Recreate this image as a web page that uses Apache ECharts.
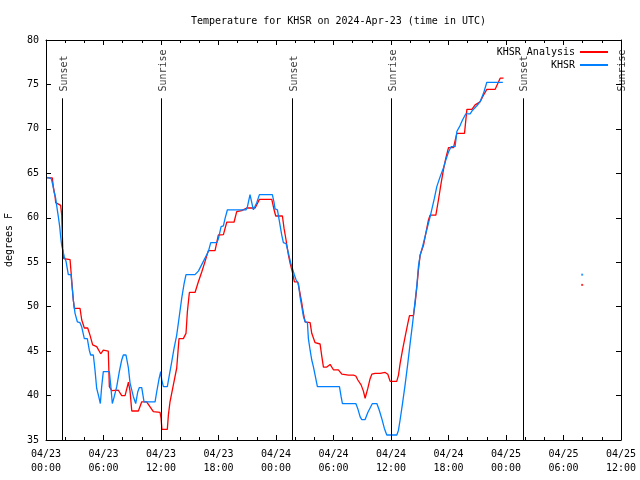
<!DOCTYPE html>
<html>
<head>
<meta charset="utf-8">
<script src="https://cdn.jsdelivr.net/npm/echarts@6/dist/echarts.min.js"></script>
<style>html,body{margin:0;padding:0;background:#fff}#c{width:640px;height:480px}</style>
</head>
<body>
<div id="c"></div>
<script>
// hours since 2024-04-23 00:00 UTC, temperature in F
const analysisTimes = [0.1,0.66,0.76,0.94,1.01,1.53,1.64,1.75,1.85,2.51,2.61,2.68,2.85,2.96,3.55,3.73,4.0,4.35,4.59,4.87,5.29,5.71,5.98,6.5,6.61,6.86,7.55,7.9,8.25,8.6,8.77,8.95,9.64,9.99,10.5,11.2,11.9,12.0,12.1,12.66,12.77,12.94,13.29,13.64,13.88,14.33,14.61,14.75,14.96,15.55,15.9,16.25,16.6,16.94,17.64,17.98,18.51,18.86,19.62,19.9,20.42,20.95,21.82,22.27,23.56,23.8,23.97,24.67,24.84,25.05,25.3,25.47,25.71,25.92,26.27,26.51,26.69,26.86,27.04,27.56,27.73,28.08,28.6,28.78,28.95,29.3,29.65,29.99,30.51,30.87,31.56,32.08,32.33,32.54,32.88,33.12,33.3,33.58,33.82,34.0,34.34,34.86,35.39,35.67,35.91,36.6,36.78,36.95,37.2,37.47,37.75,37.93,38.34,38.52,38.7,38.86,39.04,39.39,39.63,39.91,40.08,40.68,40.95,41.23,41.47,41.72,42.0,42.52,42.87,43.67,43.92,44.44,44.78,45.3,45.65,46.0,46.87,47.39,47.74];
const analysisTemps = [64.5,64.5,63.5,62.5,61.7,61.4,60.3,56.5,55.4,55.3,55.5,53.0,50.75,49.8,49.8,48.5,47.6,47.6,46.8,45.7,45.5,44.7,45.1,45.0,41.0,40.55,40.6,40.0,40.0,41.5,40.5,38.26,38.26,39.3,39.3,38.2,38.1,37.5,36.2,36.2,37.8,39.3,41.2,43.1,46.4,46.4,47.0,49.4,51.6,51.6,52.8,53.9,55.1,56.3,56.3,58.06,58.1,59.5,59.5,60.7,60.8,61.1,61.1,62.07,62.07,60.9,60.2,60.2,58.8,57.5,55.8,54.9,53.9,52.8,52.8,51.5,50.4,49.25,48.3,48.2,47.0,45.95,45.8,44.4,43.2,43.2,43.5,42.9,42.9,42.4,42.3,42.3,42.2,41.75,41.2,40.5,39.7,40.8,41.9,42.4,42.5,42.5,42.6,42.4,41.6,41.6,42.3,43.6,45.1,46.6,48.1,49.0,49.0,50.4,52.25,54.1,55.8,56.9,58.25,59.75,60.3,60.3,62.0,63.9,65.4,66.7,67.9,67.9,69.5,69.5,72.2,72.2,72.7,73.06,73.8,74.45,74.45,75.7,75.7];
const stationTimes = [0.14,0.55,0.73,0.84,1.01,1.11,1.29,1.43,1.53,1.64,1.91,2.09,2.33,2.61,2.75,2.85,3.03,3.27,3.55,3.72,4.0,4.31,4.52,4.66,4.94,5.11,5.29,5.5,5.67,5.81,5.98,6.61,6.75,6.92,7.1,7.38,7.65,7.9,8.07,8.35,8.6,8.77,9.11,9.36,9.57,9.74,9.99,10.23,11.38,11.55,11.8,11.97,12.07,12.25,12.66,12.87,13.12,13.36,13.64,13.88,14.16,14.41,14.61,15.55,15.9,16.42,16.94,17.19,17.82,17.98,18.27,18.51,18.68,18.93,20.88,21.02,21.29,21.47,21.64,21.99,22.27,23.62,23.8,23.9,24.15,24.36,24.6,24.77,25.05,25.3,25.54,25.71,25.92,26.1,26.34,26.51,26.69,26.86,27.04,27.28,27.38,27.56,27.73,27.9,28.08,28.32,30.62,30.79,30.93,32.33,32.54,32.78,32.95,33.3,33.58,33.82,34.06,34.52,34.76,35.04,35.31,35.56,36.61,36.78,36.95,37.2,37.47,37.75,38.0,38.25,38.45,38.7,38.86,39.04,39.29,39.56,39.91,40.08,40.26,40.53,40.78,41.12,41.47,41.72,42.0,42.27,42.69,42.87,43.22,43.46,43.81,44.26,44.51,44.96,45.3,45.65,46.0,47.67];
const stationTemps = [64.55,64.4,63.6,62.9,62.2,61.4,60.1,59.0,57.9,56.9,55.6,55.1,53.6,53.6,51.9,50.75,49.25,48.3,48.2,47.75,46.4,46.4,45.1,44.56,44.56,42.9,40.8,39.9,39.1,41.0,42.7,42.7,41.2,39.1,39.8,41.0,42.7,44.0,44.56,44.56,43.1,41.4,39.9,39.1,40.4,40.9,40.9,39.3,39.3,40.4,41.9,42.7,41.8,41.0,41.0,42.3,43.8,45.3,46.8,48.7,50.94,52.6,53.6,53.6,54.0,55.1,56.2,57.2,57.2,57.6,59.0,59.1,59.9,60.9,60.9,61.25,62.6,61.7,60.9,61.7,62.6,62.6,61.7,61.0,60.9,59.56,58.06,57.2,57.1,56.0,54.9,54.3,53.56,53.0,52.6,51.1,50.0,48.9,48.3,48.2,46.4,45.1,44.0,43.25,42.3,41.0,41.0,39.9,39.1,39.1,38.5,37.6,37.3,37.3,38.1,38.6,39.1,39.1,38.4,37.4,36.3,35.56,35.56,36.1,37.25,39.1,41.2,43.6,45.9,48.1,50.0,52.4,54.5,55.8,56.75,57.9,59.4,60.1,60.3,62.2,63.5,64.6,65.6,66.5,67.4,68.0,68.0,69.7,70.4,71.0,71.7,71.7,72.1,72.6,73.06,74.0,75.24,75.24];
// isolated later readings
const analysisExtra = [[55.95, 52.45]];
const stationExtra = [[55.95, 53.6]];
// sun events (hours)
const sunEvents = ['Sunset','Sunrise','Sunset','Sunrise','Sunset','Sunrise'];
const sunTimes = [1.70, 12.04, 25.7, 36.05, 49.76, 59.98];
const yTicks = [35,40,45,50,55,60,65,70,75,80];

const FONT = 'DejaVu Sans Mono';
const zip = (a,b) => a.map((t,i)=>[t,b[i]]);
const lineTop = 73.44, labelBase = 74.2;

function fmtX(v){
  const day = 23 + Math.floor(v/24);
  const hr = Math.round(v % 24);
  return '04/' + day + '\n' + String(hr).padStart(2,'0') + ':00';
}

const chart = echarts.init(document.getElementById('c'), null, {renderer:'canvas'});
const axisCommon = {
  type:'value', min:0, max:60, interval:6,
  axisLine:{show:true, onZero:false, lineStyle:{color:'#000', width:1}},
  axisTick:{show:true, inside:true, length:5, lineStyle:{color:'#000'}},
  minorTick:{show:true, splitNumber:3, length:3, lineStyle:{color:'#000'}},
  splitLine:{show:false}, minorSplitLine:{show:false}
};
const yCommon = {
  type:'value', min:35, max:80, interval:5,
  axisLine:{show:true, onZero:false, lineStyle:{color:'#000', width:1}},
  axisTick:{show:true, inside:true, length:5, lineStyle:{color:'#000'}},
  splitLine:{show:false}
};
chart.setOption({
  animation:false,
  backgroundColor:'#fff',
  title:{text:'Temperature for KHSR on 2024-Apr-23 (time in UTC)', left:186, top:11,
    textStyle:{fontFamily:FONT, fontSize:10, fontWeight:'normal', color:'#000'}},
  legend:{
    orient:'vertical', right:27, top:42, align:'right', itemGap:3,
    itemWidth:28, itemHeight:2, icon:'rect',
    textStyle:{fontFamily:FONT, fontSize:10, color:'#000'},
    data:[{name:'KHSR Analysis', itemStyle:{color:'#ff0000'}},{name:'KHSR', itemStyle:{color:'#0080ff'}}],
    selectedMode:false
  },
  grid:{left:46, right:19, top:40, bottom:40, containLabel:false, outerBoundsMode:'none'},
  xAxis:[
    Object.assign({}, axisCommon, {position:'bottom',
      axisLabel:{show:true, formatter:fmtX, fontFamily:FONT, fontSize:10, color:'#000', lineHeight:14, margin:7, showMaxLabel:true, showMinLabel:true}}),
    Object.assign({}, axisCommon, {position:'top', axisLabel:{show:false}})
  ],
  yAxis:[
    Object.assign({}, yCommon, {position:'left', name:'degrees F', nameLocation:'middle', nameGap:32, nameRotate:90,
      nameTextStyle:{fontFamily:FONT, fontSize:10, color:'#000'},
      axisLabel:{show:true, fontFamily:FONT, fontSize:10, color:'#000', margin:7}}),
    Object.assign({}, yCommon, {position:'right', axisLabel:{show:false}})
  ],
  series:[
    {name:'KHSR Analysis', type:'line', data:zip(analysisTimes, analysisTemps), showSymbol:false, symbol:'none',
      lineStyle:{color:'#ff0000', width:1.3}, itemStyle:{color:'#ff0000'}, z:3},
    {name:'KHSR', type:'line', data:zip(stationTimes, stationTemps), showSymbol:false, symbol:'none',
      lineStyle:{color:'#0080ff', width:1.3}, itemStyle:{color:'#0080ff'}, z:4},
    {name:'KHSR Analysis', type:'scatter', data:analysisExtra, symbol:'rect', symbolSize:2, itemStyle:{color:'#ff0000'}, z:3},
    {name:'KHSR', type:'scatter', data:stationExtra, symbol:'rect', symbolSize:2, itemStyle:{color:'#0080ff'}, z:4},
    {name:'sun', type:'scatter', symbolSize:0, silent:true, clip:false, itemStyle:{color:'#000'},
      data:sunTimes.map((t,i)=>[t, labelBase, sunEvents[i]]),
      label:{show:true, position:'inside', rotate:90, align:'left', verticalAlign:'middle',
        formatter:p=>p.data[2], fontFamily:FONT, fontSize:10, color:'#000',
        textBorderWidth:0, textBorderColor:'transparent', offset:[0,2]},
      markLine:{silent:true, symbol:['none','none'], label:{show:false},
        lineStyle:{color:'#000', width:1, type:'solid'},
        data:sunTimes.map(t=>[{coord:[t,35]},{coord:[t,lineTop]}])},
      z:2}
  ]
});
</script>
</body>
</html>
